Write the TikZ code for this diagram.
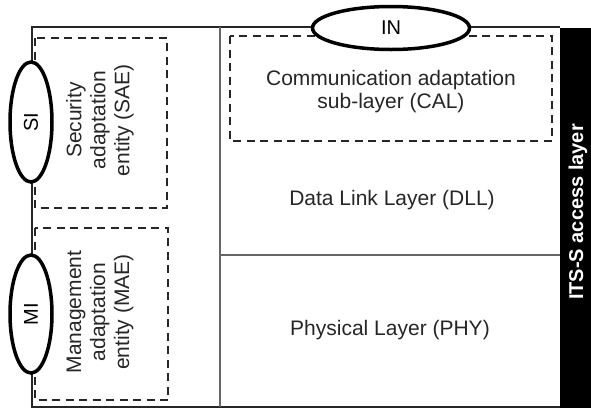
\documentclass[tikz,border=0pt]{standalone}
\usepackage{fontspec}
\setmainfont{Liberation Sans}
\usetikzlibrary{shapes.geometric}
\begin{document}
\begin{tikzpicture}[x=1pt,y=-1pt,
  frame/.style={line width=2pt,draw=black!85},
  divider/.style={line width=2.5pt,draw=black!60},
  dbox/.style={draw=black!85,line width=1.5pt,dash pattern=on 8pt off 5.5pt},
  iface/.style={ellipse,draw=black,fill=white,line width=3.5pt,inner sep=0pt,
    font=\fontsize{20}{24}\selectfont},
  label/.style={font=\fontsize{21}{24}\selectfont,text=black!85,align=center,inner sep=0pt},
]
\useasboundingbox (0,0) rectangle (591,408);
% black bar
\fill[black] (560,28) rectangle (591,408);
% frame
\coordinate (tl) at (32,27);
\coordinate (tr) at (560,27);
\coordinate (bl) at (32,407);
\coordinate (br) at (560,407);
\coordinate (dt) at (220,27);
\coordinate (db) at (220,407);
\coordinate (hl) at (220,255);
\coordinate (hr) at (560,255);
\draw[frame] (tr) -- (tl) -- (bl) -- (br);
\draw[divider] (dt) -- (db);
\draw[divider] (hl) -- (hr);
% dashed boxes
\draw[dbox] (35,38) rectangle (167,208);
\draw[dbox] (35,228) rectangle (168,400);
\draw[dbox] (230,36) rectangle (552,141);
% texts
\node[label,rotate=90] (sae) at (100,120) {Security\\adaptation\\entity (SAE)};
\node[label,rotate=90] (mae) at (100,312) {Management\\adaptation\\entity (MAE)};
\node[label,anchor=base] (cal) at (391,85) {Communication adaptation};
\node[label,anchor=base] (cal2) at (391,108) {sub-layer (CAL)};
\node[label,anchor=base] (dll) at (392,205) {Data Link Layer (DLL)};
\node[label,anchor=base] (phy) at (390,335) {Physical Layer (PHY)};
\node[rotate=90,text=white,font=\bfseries\fontsize{20}{24}\selectfont,anchor=base,inner sep=0pt] (its) at (583,212) {ITS-S access layer};
% interfaces
\node[iface,minimum width=157pt,minimum height=43pt] (in) at (391,28) {IN};
\node[iface,minimum width=120pt,minimum height=42pt,rotate=90] (si) at (31,122) {SI};
\node[iface,minimum width=118pt,minimum height=42pt,rotate=90] (mi) at (31,314) {MI};
\end{tikzpicture}
\end{document}
